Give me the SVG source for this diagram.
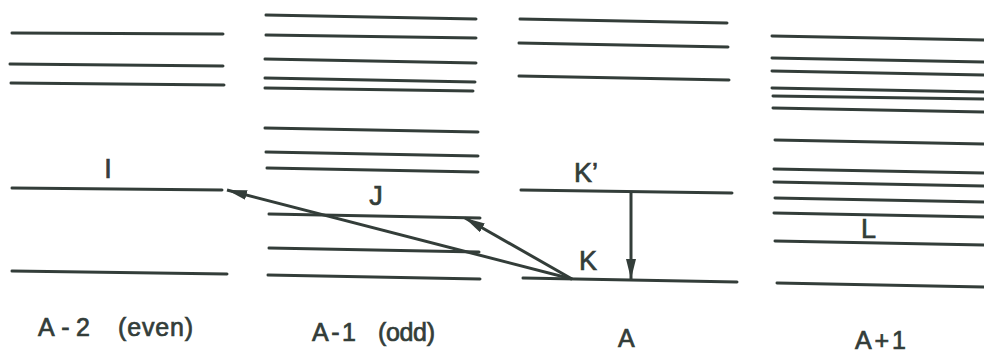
<svg xmlns="http://www.w3.org/2000/svg" width="984" height="354" viewBox="0 0 984 354">
<style>
.lv{stroke:#333d39;stroke-width:3;fill:none;stroke-linecap:round}
.cn{stroke:#333d39;stroke-width:3;fill:none}
.t{font-family:"Liberation Sans","DejaVu Sans",sans-serif;fill:#333d39;stroke:#333d39;stroke-width:0.7}
.lb{font-size:25px}
.st{font-size:27px}
</style>
<defs>
<marker id="ah" markerUnits="userSpaceOnUse" markerWidth="22" markerHeight="12" refX="20" refY="5" orient="auto">
<path d="M0,0 L20,5 L0,10 Z" fill="#333d39"/>
</marker>
</defs>
<rect width="984" height="354" fill="#ffffff"/>
<g id="col-A-2">
<line class="lv" x1="12" y1="33" x2="223" y2="34"/>
<line class="lv" x1="10" y1="64" x2="223" y2="66"/>
<line class="lv" x1="11" y1="83" x2="224" y2="85"/>
<line class="lv" x1="12" y1="188" x2="222" y2="190"/>
<line class="lv" x1="12" y1="271" x2="227" y2="274"/>
<text class="t st" x="108" y="178" text-anchor="middle">I</text>
<text class="t lb" x="38" y="336" textLength="52" lengthAdjust="spacing">A-2</text>
<text class="t lb" x="118" y="336" textLength="75" lengthAdjust="spacing">(even)</text>
</g>
<g id="col-A-1">
<line class="lv" x1="266" y1="15" x2="476" y2="19"/>
<line class="lv" x1="266" y1="35" x2="476" y2="38"/>
<line class="lv" x1="265" y1="59" x2="476" y2="63"/>
<line class="lv" x1="265" y1="78" x2="475" y2="82"/>
<line class="lv" x1="265" y1="88" x2="473" y2="91"/>
<line class="lv" x1="265" y1="128" x2="478" y2="132"/>
<line class="lv" x1="266" y1="152" x2="478" y2="156"/>
<line class="lv" x1="267" y1="168" x2="478" y2="172"/>
<line class="lv" x1="269" y1="214" x2="480" y2="218"/>
<line class="lv" x1="269" y1="248" x2="479" y2="252"/>
<line class="lv" x1="268" y1="275" x2="480" y2="279"/>
<text class="t st" x="376" y="205" text-anchor="middle">J</text>
<text class="t lb" x="312" y="341" textLength="44" lengthAdjust="spacing">A-1</text>
<text class="t lb" x="378" y="341" textLength="57" lengthAdjust="spacing">(odd)</text>
</g>
<g id="col-A">
<line class="lv" x1="520" y1="19" x2="727" y2="23"/>
<line class="lv" x1="519" y1="43" x2="728" y2="47"/>
<line class="lv" x1="519" y1="76" x2="729" y2="80"/>
<line class="lv" x1="521" y1="190" x2="732" y2="193"/>
<line class="lv" x1="523" y1="278" x2="737" y2="282"/>
<text class="t st" x="574" y="182">K’</text>
<text class="t st" x="579" y="270">K</text>
<text class="t lb" x="618" y="347">A</text>
</g>
<g id="col-A+1">
<line class="lv" x1="772" y1="36" x2="984" y2="40"/>
<line class="lv" x1="772" y1="58" x2="984" y2="62"/>
<line class="lv" x1="772" y1="71" x2="984" y2="75"/>
<line class="lv" x1="772" y1="88" x2="984" y2="92"/>
<line class="lv" x1="773" y1="96" x2="984" y2="99"/>
<line class="lv" x1="773" y1="108" x2="984" y2="112"/>
<line class="lv" x1="775" y1="140" x2="984" y2="144"/>
<line class="lv" x1="774" y1="169" x2="984" y2="173"/>
<line class="lv" x1="774" y1="182" x2="984" y2="186"/>
<line class="lv" x1="775" y1="198" x2="984" y2="202"/>
<line class="lv" x1="774" y1="213" x2="984" y2="217"/>
<line class="lv" x1="775" y1="241" x2="984" y2="245"/>
<line class="lv" x1="777" y1="283" x2="984" y2="287"/>
<text class="t st" x="861" y="238">L</text>
<text class="t lb" x="855" y="349" textLength="51" lengthAdjust="spacing">A+1</text>
</g>
<g id="connectors">
<line class="cn" x1="572" y1="279" x2="227" y2="190" marker-end="url(#ah)"/>
<line class="cn" x1="572" y1="279" x2="465" y2="218" marker-end="url(#ah)"/>
<line class="cn" x1="631" y1="192" x2="631" y2="279" marker-end="url(#ah)"/>
</g>
</svg>
